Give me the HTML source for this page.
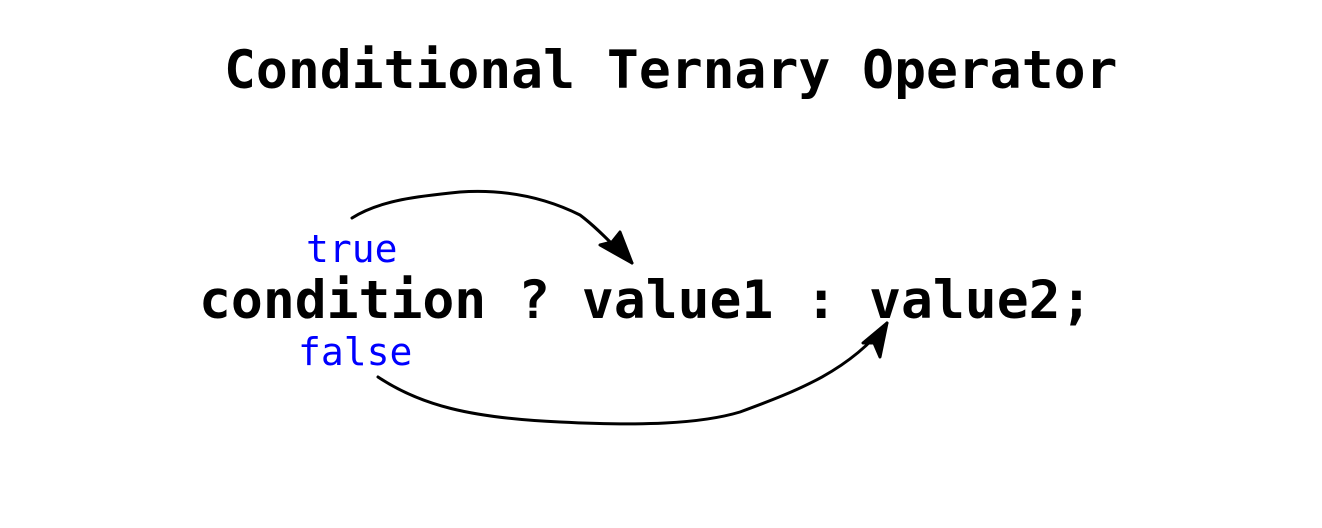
<!DOCTYPE html>
<html><head><style>
body{margin:0;width:1322px;height:528px;background:#fff;position:relative;overflow:hidden}
.t{position:absolute;font-family:"DejaVu Sans Mono","Liberation Mono",monospace;font-weight:bold;white-space:pre;color:#000;line-height:1}
.b{position:absolute;font-family:"DejaVu Sans Mono","Liberation Mono",monospace;white-space:pre;color:#0000ff;line-height:1}
</style></head><body>
<div class="t" style="left:224px;top:44px;font-size:53px">Conditional Ternary Operator</div>
<div class="t" style="left:199px;top:274px;font-size:53px">condition ? value1 : value2;</div>
<div class="b" style="left:306px;top:230px;font-size:38px">true</div>
<div class="b" style="left:298px;top:333px;font-size:38px">false</div>
<svg width="1322" height="528" style="position:absolute;left:0;top:0" fill="none" stroke="#000" stroke-width="3" stroke-linecap="round" stroke-linejoin="round">
<path d="M352 218 C380 200 420 196 460 192 C520 188 560 205 580 215 C600 230 615 248 632 263"/>
<path d="M632 263 L600 245 L612 242 L620 232 Z" fill="#000"/>
<path d="M378 377 C420 405 470 418 560 422 C640 426 700 424 740 412 C800 390 850 370 887 323"/>
<path d="M887 323 L863 343 L874 343 L880 357 Z" fill="#000"/>
</svg>
</body></html>
